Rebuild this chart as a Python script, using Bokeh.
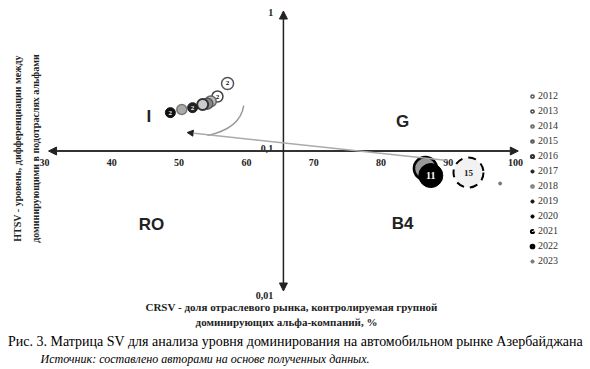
import math
from bokeh.plotting import figure
from bokeh.models import Range1d, Label, Arrow, NormalHead, Legend, LegendItem
from bokeh.core.properties import value
from bokeh.embed import file_html
from bokeh.resources import INLINE

# ---------------- data ----------------
years = ["2012", "2013", "2014", "2015", "2016", "2017",
         "2018", "2019", "2020", "2021", "2022", "2023"]
crsv = [57.2, 55.7, 54.7, 54.2, 53.5, 52.0, 50.4, 48.7, 87.4, 93.0, 86.6, 97.7]
htsv = [0.304, 0.245, 0.226, 0.218, 0.215, 0.204, 0.198, 0.188,
        0.0668, 0.0702, 0.0750, 0.0586]
point_labels = ["2", "2", "", "", "", "2", "", "2", "11", "15", "", ""]

x_ticks = [30, 40, 50, 60, 70, 80, 90, 100]
y_ticks = [1, 0.1, 0.01]
y_tick_labels = ["1", "0,1", "0,01"]
x_cross = 65.5      # CRSV boundary of the quadrants
y_cross = 0.1       # HTSV boundary of the quadrants

quad_names = ["I", "G", "RO", "B4"]
quad_x = [45.5, 83.2, 45.9, 83.2]
quad_y = [0.176, 0.162, 0.0299, 0.0303]

# trajectory (grey arc + arrow back to quadrant I)
arc_x = [59.6, 59.1, 54.2]
arc_y = [0.211, 0.145, 0.129]
traj_x = [89.9, 51.2]
traj_y = [0.0855, 0.1355]

# ---------------- styles ----------------
styles = {
    "2012": dict(fill_color="white", line_color="#555555", line_width=1.5, size=12),
    "2013": dict(fill_color="white", line_color="#444444", line_width=1.5, size=11),
    "2014": dict(fill_color="#bbbbbb", line_color="#666666", line_width=1.5, size=11),
    "2015": dict(fill_color="#888888", line_color="#555555", line_width=1.5, size=11),
    "2016": dict(fill_color="#cccccc", line_color="#333333", line_width=2, size=11),
    "2017": dict(fill_color="#222222", line_color="#222222", line_width=1, size=10),
    "2018": dict(fill_color="#aaaaaa", line_color="#777777", line_width=1.5, size=10),
    "2019": dict(fill_color="#111111", line_color="#111111", line_width=1, size=10),
    "2020": dict(fill_color="black", line_color="black", line_width=1, size=24),
    "2021": dict(fill_color="#f2f2f2", line_color="black", line_width=2, size=30,
                 line_dash="8 6"),
    "2022": dict(fill_color="#999999", line_color="black", line_width=2.5, size=23),
    "2023": dict(fill_color="#777777", line_color="#777777", line_width=1, size=3),
}
text_colors = {"2012": "black", "2013": "black", "2017": "white", "2019": "white",
               "2020": "white", "2021": "#222222"}
text_sizes = {"2020": "10px", "2021": "9px"}

W, H = 590, 369
p = figure(width=W, height=H, output_backend="svg", toolbar_location=None,
           x_range=Range1d(23.46, 111.13), y_range=Range1d(0.00275, 1.189),
           y_axis_type="log",
           x_axis_location=None, y_axis_location=None,
           min_border=0, min_border_left=0, min_border_right=0,
           min_border_top=0, min_border_bottom=0)
p.outline_line_color = None
p.xgrid.visible = False
p.ygrid.visible = False
p.background_fill_color = "white"
p.border_fill_color = "white"

# axes as crossing arrows
head = lambda: NormalHead(size=8, fill_color="#222222", line_color="#222222")
p.add_layout(Arrow(start=head(), end=head(), x_start=x_ticks[0] + 0.6, y_start=y_cross,
                   x_end=x_ticks[-1] + 0.4, y_end=y_cross,
                   line_color="#333333", line_width=2))
p.add_layout(Arrow(start=head(), end=head(), x_start=x_cross, y_start=y_ticks[-1],
                   x_end=x_cross, y_end=y_ticks[0],
                   line_color="#222222", line_width=1.5))

serif = value("Liberation Serif")
sans = value("Liberation Sans")

# tick labels
p.text(x=x_ticks, y=[0.0828] * len(x_ticks), text=[str(t) for t in x_ticks],
       text_align="center", text_baseline="middle", text_font=serif,
       text_font_size="10px", text_font_style="bold", text_color="#222222")
p.text(x=[x_cross - 1.5] * 3, y=[0.97, 0.104, 0.0093], text=y_tick_labels,
       text_align="right", text_baseline="middle", text_font=serif,
       text_font_size="10px", text_font_style="bold", text_color="#222222")

# quadrant names
p.text(x=quad_x, y=quad_y, text=quad_names, text_align="center",
       text_baseline="middle", text_font=sans, text_font_size="17px",
       text_font_style="bold", text_color="#222222")

# trajectory
p.quadratic(x0=arc_x[0], y0=arc_y[0], cx=arc_x[1], cy=arc_y[1],
            x1=arc_x[2], y1=arc_y[2], line_color="#999999", line_width=1.5)
p.add_layout(Arrow(end=NormalHead(size=6, fill_color="#222222", line_color="#222222"),
                   x_start=traj_x[0], y_start=traj_y[0], x_end=traj_x[1], y_end=traj_y[1],
                   line_color="#aaaaaa", line_width=1.5))

# points
draw_order = ["2012", "2013", "2014", "2015", "2016", "2017", "2018", "2019",
              "2022", "2020", "2021", "2023"]
renderers = {}
for yr in draw_order:
    i = years.index(yr)
    st = styles[yr]
    r = p.scatter(x=[crsv[i]], y=[htsv[i]], marker="circle", **st)
    renderers[yr] = r
    if point_labels[i]:
        p.text(x=[crsv[i]], y=[htsv[i]], text=[point_labels[i]], text_align="center",
               text_baseline="middle", text_font=serif,
               text_font_size=text_sizes.get(yr, "7px"), text_font_style="bold",
               text_color=text_colors.get(yr, "black"))

legend = Legend(items=[LegendItem(label=yr, renderers=[renderers[yr]]) for yr in years],
                location=(528, 103), orientation="vertical",
                label_text_font="Liberation Serif", label_text_font_size="10px",
                label_text_color="#333333", label_height=10, glyph_height=10,
                glyph_width=8, spacing=4, label_standoff=2, padding=0, margin=0,
                border_line_color=None, background_fill_alpha=0)
p.add_layout(legend)


def lab(x, y, text, size, style="bold", angle=0.0, align="center", color="#222222"):
    anchor = "center" if align == "center" else "center_left"
    p.add_layout(Label(x=x, y=y, x_units="screen", y_units="screen", text=text,
                       angle=angle, anchor=anchor, text_font="Liberation Serif",
                       text_font_size=size, text_font_style=style, text_color=color))


# titles
lab(17, 221, "HTSV - уровень, дифференциации между", "10px", angle=math.pi / 2)
lab(35, 221, "доминирующими в подотраслях альфами", "10px", angle=math.pi / 2)
lab(291, 63, "CRSV - доля отраслевого рынка, контролируемая групной", "11px")
lab(286, 48, "доминирующих альфа-компаний, %", "11px")
lab(295, 28, "Рис. 3. Матрица SV для анализа уровня доминирования на автомобильном рынке Азербайджана",
    "14px", style="normal", color="black")
lab(40, 11, "Источник: составлено авторами на основе полученных данных.", "12px",
    style="italic", align="left", color="black")

open("out.html", "w").write(file_html(p, INLINE))
